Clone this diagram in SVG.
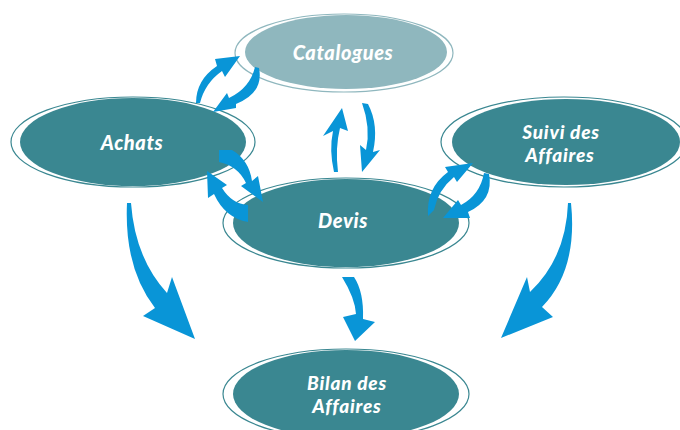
<svg xmlns="http://www.w3.org/2000/svg" width="680" height="430" viewBox="0 0 680 430">
<style>
.ring{fill:none;stroke:#3a8791;stroke-width:1.2}
.ringl{fill:none;stroke:#8fb7be;stroke-width:1.2}
.fill{fill:#3a8791}
.filll{fill:#8fb7be}
.lbl{font-family:Lato,"Open Sans",sans-serif;font-weight:900;font-style:italic;font-size:20px;letter-spacing:0.6px;fill:#ffffff;text-anchor:middle}
.two{font-size:19px;letter-spacing:0.8px}
.arr{fill:#0995d7}
</style>
<rect width="680" height="430" fill="#ffffff"/>
<g id="catalogues">
<ellipse class="ringl" cx="344" cy="53" rx="109" ry="39"/>
<ellipse class="filll" cx="346" cy="52" rx="101" ry="37"/>
<text class="lbl" x="343" y="60">Catalogues</text>
</g>
<g id="achats">
<ellipse class="ring" cx="133" cy="142" rx="122" ry="45"/>
<ellipse class="fill" cx="133" cy="142" rx="113" ry="44"/>
<text class="lbl" x="132" y="150">Achats</text>
</g>
<g id="suivi">
<ellipse class="ring" cx="564" cy="142" rx="123" ry="45"/>
<ellipse class="fill" cx="566" cy="142" rx="114" ry="43"/>
<text class="lbl two" x="561" y="139">Suivi des</text>
<text class="lbl two" x="560" y="162">Affaires</text>
</g>
<g id="devis">
<ellipse class="ring" cx="346" cy="223" rx="123" ry="45"/>
<ellipse class="fill" cx="346" cy="223" rx="113" ry="44"/>
<text class="lbl" x="343" y="228">Devis</text>
</g>
<g id="bilan">
<ellipse class="ring" cx="346" cy="394" rx="123" ry="45"/>
<ellipse class="fill" cx="346" cy="394" rx="113" ry="44"/>
<text class="lbl two" x="347" y="390">Bilan des</text>
<text class="lbl two" x="347" y="413">Affaires</text>
</g>
<g id="connectors">
<path class="arr" d="M127,203 Q124,268 155,308 L143,316 L195,339 L172,277 L167,293 Q135,258 131,203 Z"/>
<path class="arr" d="M571,203 Q578,270 542,307 L553,317 L501,338 L527,277 L530,292 Q566,258 568,203 Z"/>
<path class="arr" d="M342,277 L354,277 Q364,292 363,319 L375,322 L355,341 L343,317 L356,314 Q355,298 342,277 Z"/>
<path class="arr" d="M342,108 L348,131 L340,128 Q335,148 338,172 L334,172 Q329,150 333,131 L323,136 Z"/>
<path class="arr" d="M362,103 L368,104 Q379,125 373,152 L380,150 L362,172 L360,145 L366,150 Q371,128 362,103 Z"/>
<path class="arr" d="M196,103 Q196,80 217,66 L215,59 L240,56 L225,77 L222,71 Q205,83 200,103 Z"/>
<path class="arr" d="M255,67 L259,68 Q264,93 236,104 L236,108 L213,112 L227,93 L229,98 Q250,88 255,67 Z"/>
<path class="arr" d="M219,150 L232,150 Q249,160 252,181 L258,176 L263,202 L241,186 L246,183 Q238,166 219,162 Z"/>
<path class="arr" d="M207,171 L227,185 L222,188 Q232,204 248,205 L248,222 Q225,218 214,194 L208,198 Z"/>
<path class="arr" d="M428,216 Q426,188 448,172 L445,167 L473,163 L457,182 L454,177 Q438,190 434,210 Z"/>
<path class="arr" d="M484,173 L489,174 Q494,200 468,212 L470,218 L443,218 L458,200 L461,205 Q480,195 484,173 Z"/>
</g>
</svg>
